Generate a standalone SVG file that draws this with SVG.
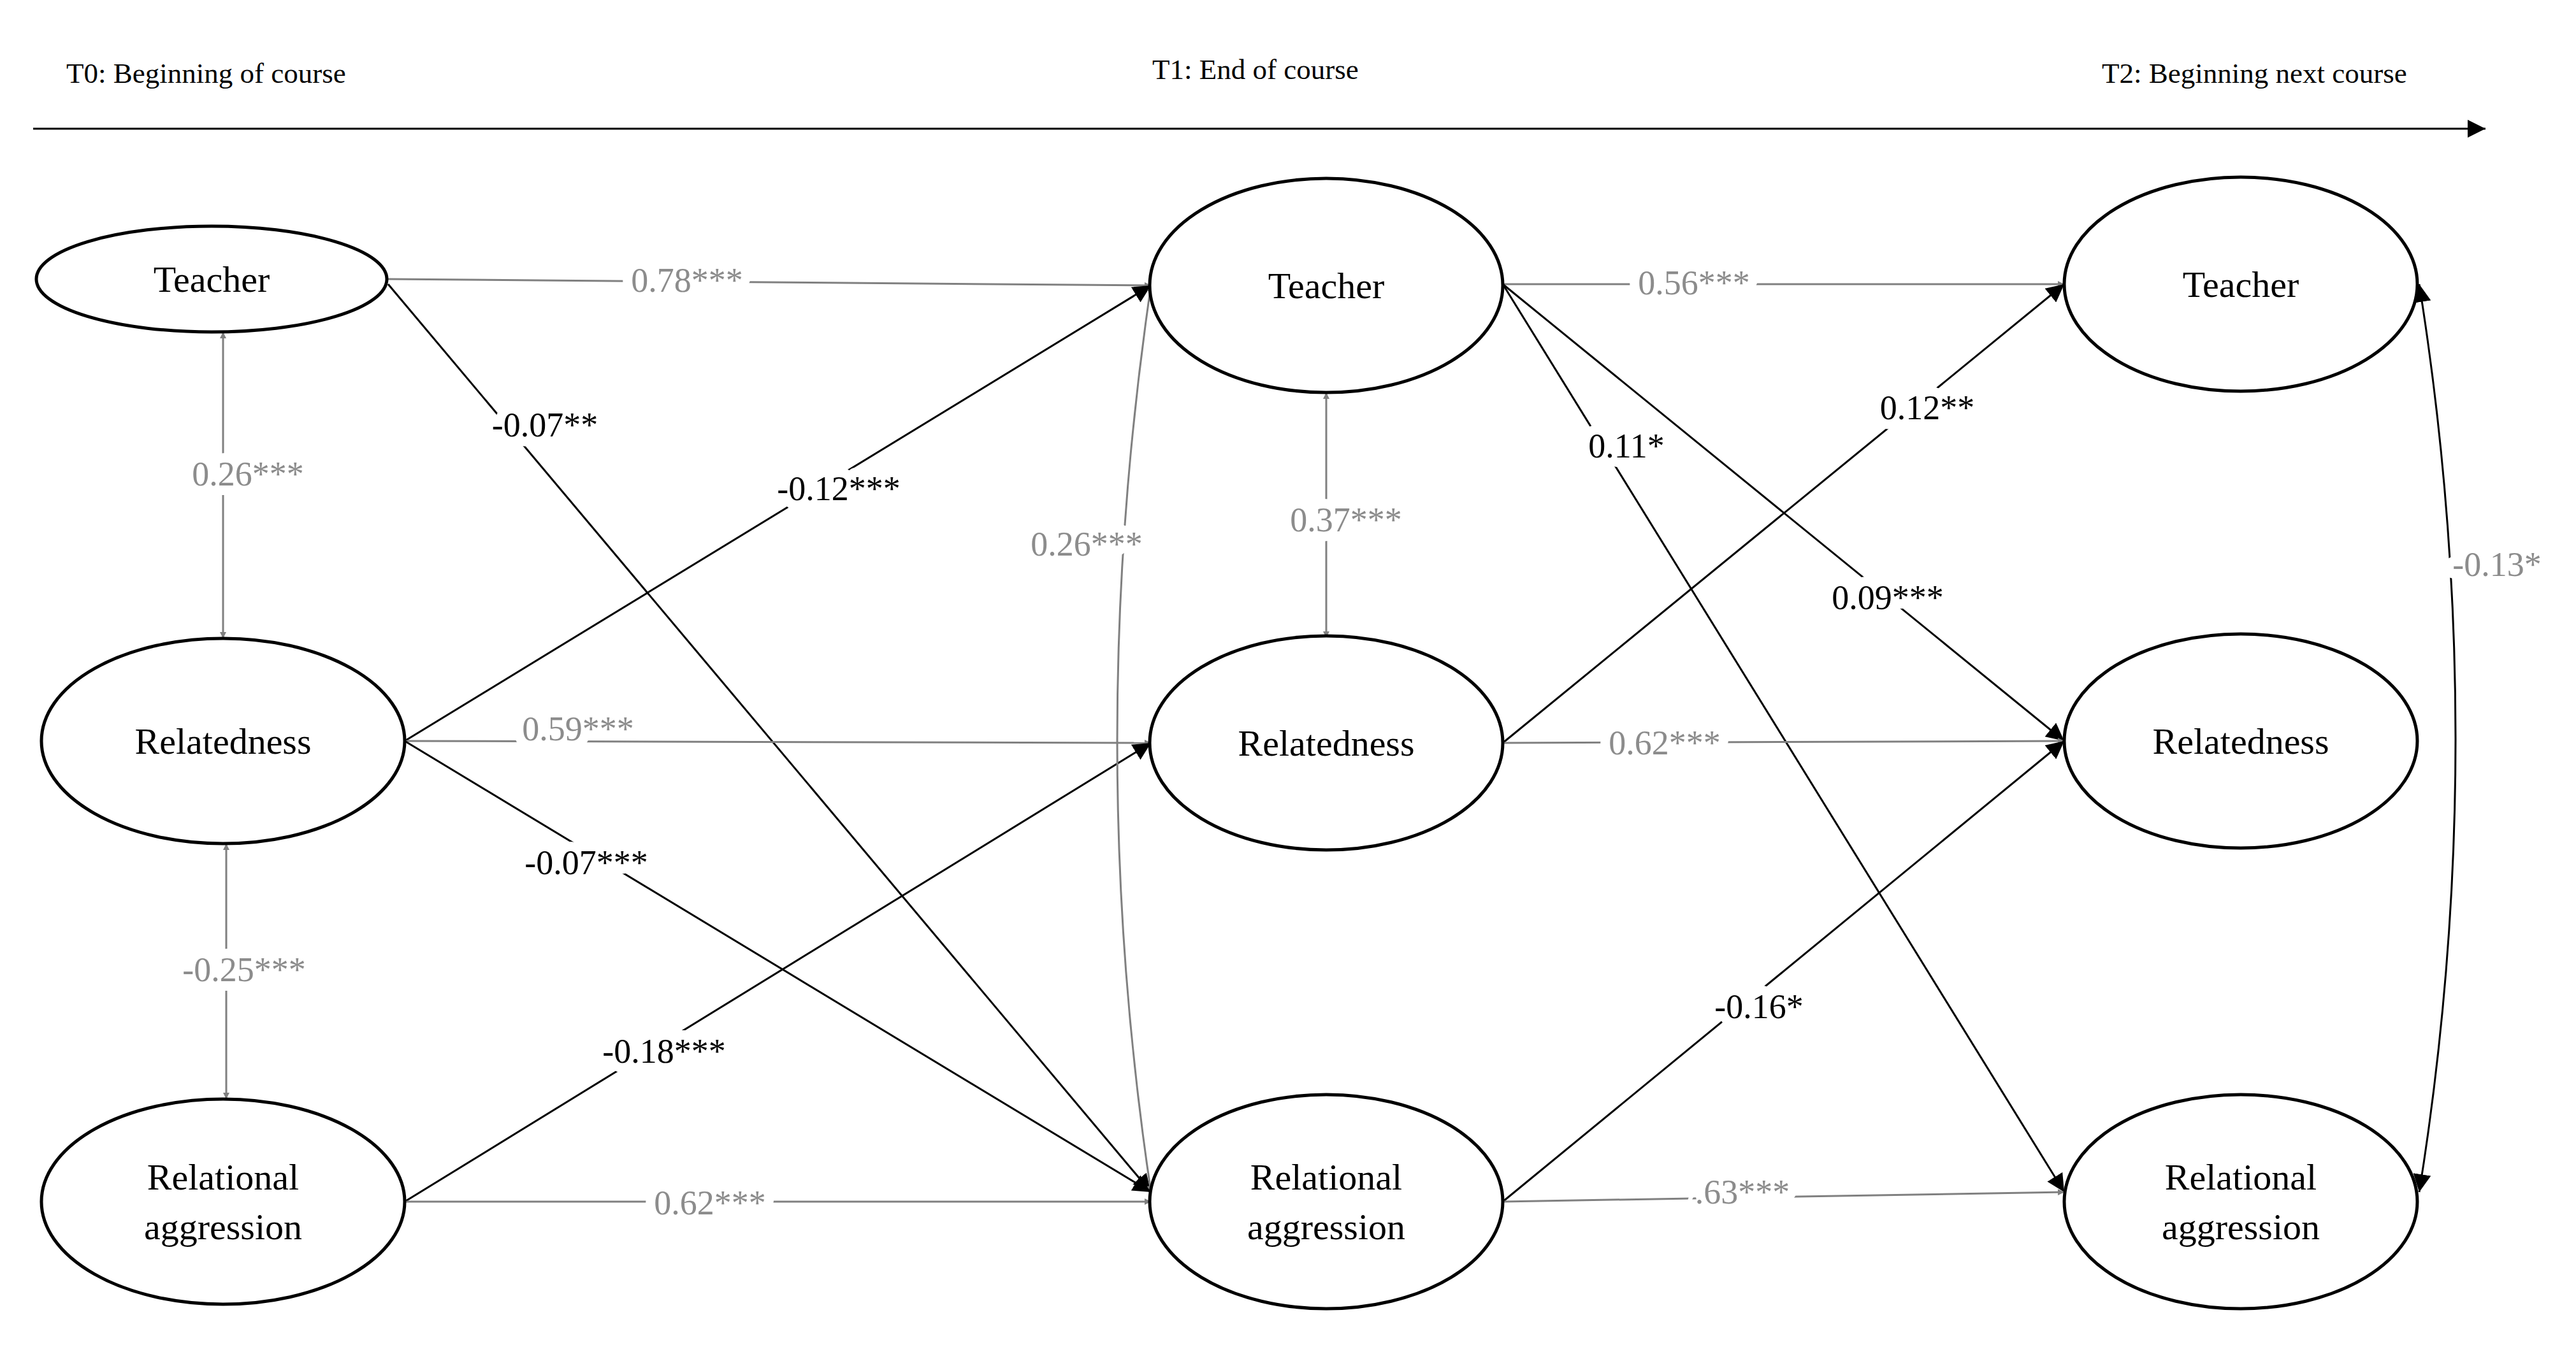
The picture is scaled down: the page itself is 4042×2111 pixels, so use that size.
<svg xmlns="http://www.w3.org/2000/svg" width="4042" height="2111" viewBox="0 0 4042 2111">
<style>
.n ellipse{fill:#fff;stroke:#000;stroke-width:5}
.n text{font-family:"Liberation Serif",serif;font-size:58px;text-anchor:middle;fill:#000}
.t{font-family:"Liberation Serif",serif;font-size:45px;fill:#000}
.g{stroke:#808080;stroke-width:3;fill:none}
.b{stroke:#000;stroke-width:3;fill:none}
.ga{marker-end:url(#ag)}
.ba{marker-end:url(#ab)}
.gd{marker-start:url(#ag);marker-end:url(#ag)}
.bd{marker-start:url(#ab);marker-end:url(#ab)}
.l{font-family:"Liberation Serif",serif;font-size:54px;text-anchor:middle;paint-order:stroke;stroke:#fff;stroke-width:30px;stroke-linejoin:round}
.lg{fill:#8c8c8c}
.lb{fill:#000}
</style>
<defs>
<marker id="ag" viewBox="0 0 10 10" refX="10" refY="5" markerWidth="10" markerHeight="10" markerUnits="userSpaceOnUse" orient="auto-start-reverse"><path d="M0,0 L10,5 L0,10 z" fill="#808080" transform="scale(1)"/></marker>
<marker id="ab" viewBox="0 0 10 10" refX="10" refY="5" markerWidth="28" markerHeight="28" markerUnits="userSpaceOnUse" orient="auto-start-reverse"><path d="M0,0 L10,5 L0,10 z" fill="#000"/></marker>
</defs>
<g id="timeline">
<text class="t" x="104" y="130">T0: Beginning of course</text>
<text class="t" x="1808" y="124">T1: End of course</text>
<text class="t" x="3298" y="130">T2: Beginning next course</text>
<line x1="52" y1="202" x2="3900" y2="202" class="b" marker-end="url(#ab)"/>
</g>
<g id="connectors">
<line class="g ga" x1="609" y1="438" x2="1806" y2="448"/>
<line class="b ba" x1="609" y1="446" x2="1806" y2="1871"/>
<line class="g gd" x1="350" y1="521" x2="350" y2="1002"/>
<line class="g gd" x1="355" y1="1324" x2="355" y2="1725"/>
<line class="b ba" x1="635" y1="1163" x2="1806" y2="448"/>
<line class="g ga" x1="635" y1="1163" x2="1806" y2="1166"/>
<line class="b ba" x1="635" y1="1163" x2="1806" y2="1871"/>
<line class="b ba" x1="635" y1="1886" x2="1806" y2="1166"/>
<line class="g ga" x1="635" y1="1886" x2="1806" y2="1886"/>
<path class="g gd" d="M1806,448 Q1700,1166 1806,1871"/>
<line class="g gd" x1="2081" y1="616" x2="2081" y2="1001"/>
<line class="g ga" x1="2358" y1="446" x2="3239" y2="446"/>
<line class="b ba" x1="2358" y1="446" x2="3239" y2="1871"/>
<line class="b ba" x1="2358" y1="446" x2="3239" y2="1163"/>
<line class="b ba" x1="2358" y1="1166" x2="3239" y2="446"/>
<line class="g ga" x1="2358" y1="1166" x2="3239" y2="1163"/>
<line class="b ba" x1="2358" y1="1886" x2="3239" y2="1163"/>
<line class="g ga" x1="2358" y1="1886" x2="3239" y2="1871"/>
<path class="b bd" d="M3796,446 Q3910,1160 3796,1871"/>
<g class="l">
<text class="lg" x="1078" y="458">0.78***</text>
<text class="lb" x="855" y="685">-0.07**</text>
<text class="lg" x="389" y="762">0.26***</text>
<text class="lg" x="383" y="1540">-0.25***</text>
<text class="lb" x="1316" y="785">-0.12***</text>
<text class="lg" x="907" y="1162">0.59***</text>
<text class="lb" x="920" y="1372">-0.07***</text>
<text class="lb" x="1042" y="1668">-0.18***</text>
<text class="lg" x="1114" y="1906">0.62***</text>
<text class="lg" x="1705" y="872">0.26***</text>
<text class="lg" x="2112" y="834">0.37***</text>
<text class="lg" x="2658" y="462">0.56***</text>
<text class="lb" x="2552" y="718">0.11*</text>
<text class="lb" x="2962" y="956">0.09***</text>
<text class="lb" x="3024" y="658">0.12**</text>
<text class="lg" x="2612" y="1184">0.62***</text>
<text class="lb" x="2760" y="1598">-0.16*</text>
<text class="lg" x="2734" y="1889">.63***</text>
<text class="lg" x="3918" y="904">-0.13*</text>
</g>
</g>
<g id="t0-teacher" class="n"><ellipse cx="332" cy="438" rx="275" ry="83"/><text x="332" y="458">Teacher</text></g>
<g id="t0-relatedness" class="n"><ellipse cx="350" cy="1163" rx="285" ry="161"/><text x="350" y="1183">Relatedness</text></g>
<g id="t0-ra" class="n"><ellipse cx="350" cy="1886" rx="285" ry="161"/><text x="350" y="1867">Relational</text><text x="350" y="1945">aggression</text></g>
<g id="t1-teacher" class="n"><ellipse cx="2081" cy="448" rx="277" ry="168"/><text x="2081" y="468">Teacher</text></g>
<g id="t1-relatedness" class="n"><ellipse cx="2081" cy="1166" rx="277" ry="168"/><text x="2081" y="1186">Relatedness</text></g>
<g id="t1-ra" class="n"><ellipse cx="2081" cy="1886" rx="277" ry="168"/><text x="2081" y="1867">Relational</text><text x="2081" y="1945">aggression</text></g>
<g id="t2-teacher" class="n"><ellipse cx="3516" cy="446" rx="277" ry="168"/><text x="3516" y="466">Teacher</text></g>
<g id="t2-relatedness" class="n"><ellipse cx="3516" cy="1163" rx="277" ry="168"/><text x="3516" y="1183">Relatedness</text></g>
<g id="t2-ra" class="n"><ellipse cx="3516" cy="1886" rx="277" ry="168"/><text x="3516" y="1867">Relational</text><text x="3516" y="1945">aggression</text></g>
</svg>
